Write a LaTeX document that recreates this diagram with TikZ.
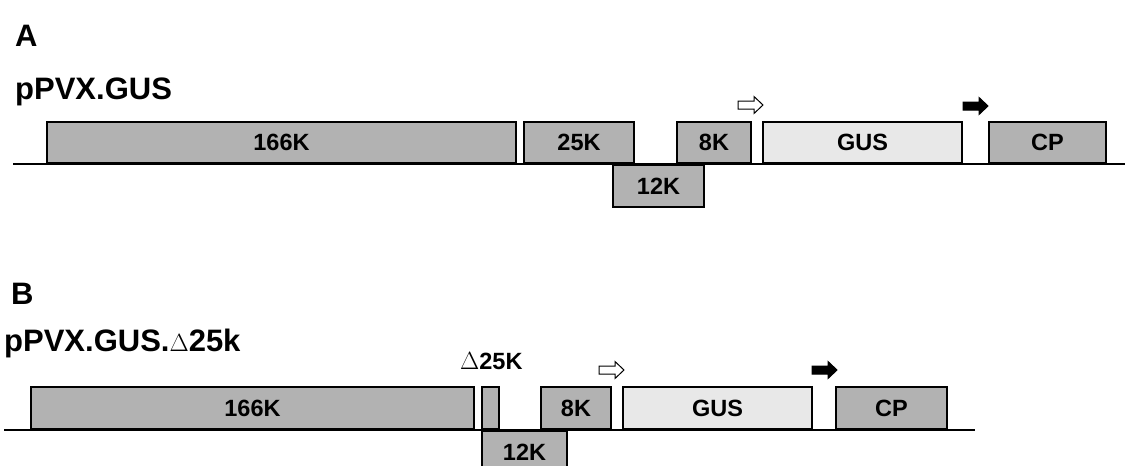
\documentclass[tikz,border=0pt]{standalone}
\usepackage{fontspec}
\setmainfont{Liberation Sans}

\tikzset{
  orf/.style={draw, line width=2pt, fill=black!30, anchor=south west, inner sep=0pt,
    font=\fontsize{23.5}{28}\selectfont\bfseries},
  reporter/.style={orf, fill=black!9},
  panel/.style={anchor=base west, inner sep=0pt, font=\fontsize{31}{36}\selectfont\bfseries},
  promoter/.style={draw, line width=1pt, line join=miter},
  genome/.style={line width=2pt}
}
% block arrow, drawn from its left end
\newcommand{\promarrow}[2]{%
  \draw[promoter, fill=#2] (#1) ++(0,-4) -- ++(16,0) -- ++(0,-4.5) -- ++(9,8.5)
    -- ++(-9,8.5) -- ++(0,-4.5) -- ++(-16,0) -- cycle;}

\begin{document}
\begin{tikzpicture}[x=1pt, y=-1pt]
\useasboundingbox (0,0) rectangle (1125,466);
\clip (0,0) rectangle (1125,466);
% panel A
\node[panel] (labA) at (15,46) {A};
\node[panel] (nameA) at (15,99) {pPVX.GUS};
\coordinate (startA) at (13,164);
\coordinate (endA) at (1125,164);
\draw[genome] (startA) -- (endA);
\node[orf, minimum width=469pt, minimum height=41pt] (rdrpA) at (46,164) {166K};
\node[orf, minimum width=110pt, minimum height=41pt] (tgbaA) at (523,164) {25K};
\node[orf, minimum width=91pt, minimum height=42pt, anchor=north west] (tgbbA) at (612,164) {12K};
\node[orf, minimum width=74pt, minimum height=41pt] (tgbcA) at (676,164) {8K};
\node[reporter, minimum width=199pt, minimum height=41pt] (gusA) at (762,164) {GUS};
\node[orf, minimum width=117pt, minimum height=41pt] (cpA) at (988,164) {CP};
\coordinate (sgpA) at (738,105);
\coordinate (cppA) at (963,106);
\promarrow{sgpA}{white}
\promarrow{cppA}{black}
% panel B
\node[panel] (labB) at (11,304) {B};
\node[panel] (nameB) at (4,351) {pPVX.GUS.$\Delta$25k};
\coordinate (startB) at (4,430);
\coordinate (endB) at (975,430);
\draw[genome] (startB) -- (endB);
\node[orf, minimum width=443pt, minimum height=42pt] (rdrpB) at (30,430) {166K};
\node[orf, minimum width=17pt, minimum height=42pt] (tgbaB) at (481,430) {};
\node[orf, minimum width=85pt, minimum height=42pt, anchor=north west] (tgbbB) at (481,430) {12K};
\node[orf, minimum width=70pt, minimum height=42pt] (tgbcB) at (540,430) {8K};
\node[reporter, minimum width=189pt, minimum height=42pt] (gusB) at (622,430) {GUS};
\node[orf, minimum width=111pt, minimum height=42pt] (cpB) at (835,430) {CP};
\node[anchor=base west, inner sep=0pt, font=\fontsize{23.5}{28}\selectfont\bfseries] (delB) at (460,369) {$\Delta$25K};
\coordinate (sgpB) at (599,370);
\coordinate (cppB) at (812,370);
\promarrow{sgpB}{white}
\promarrow{cppB}{black}
\end{tikzpicture}
\end{document}
